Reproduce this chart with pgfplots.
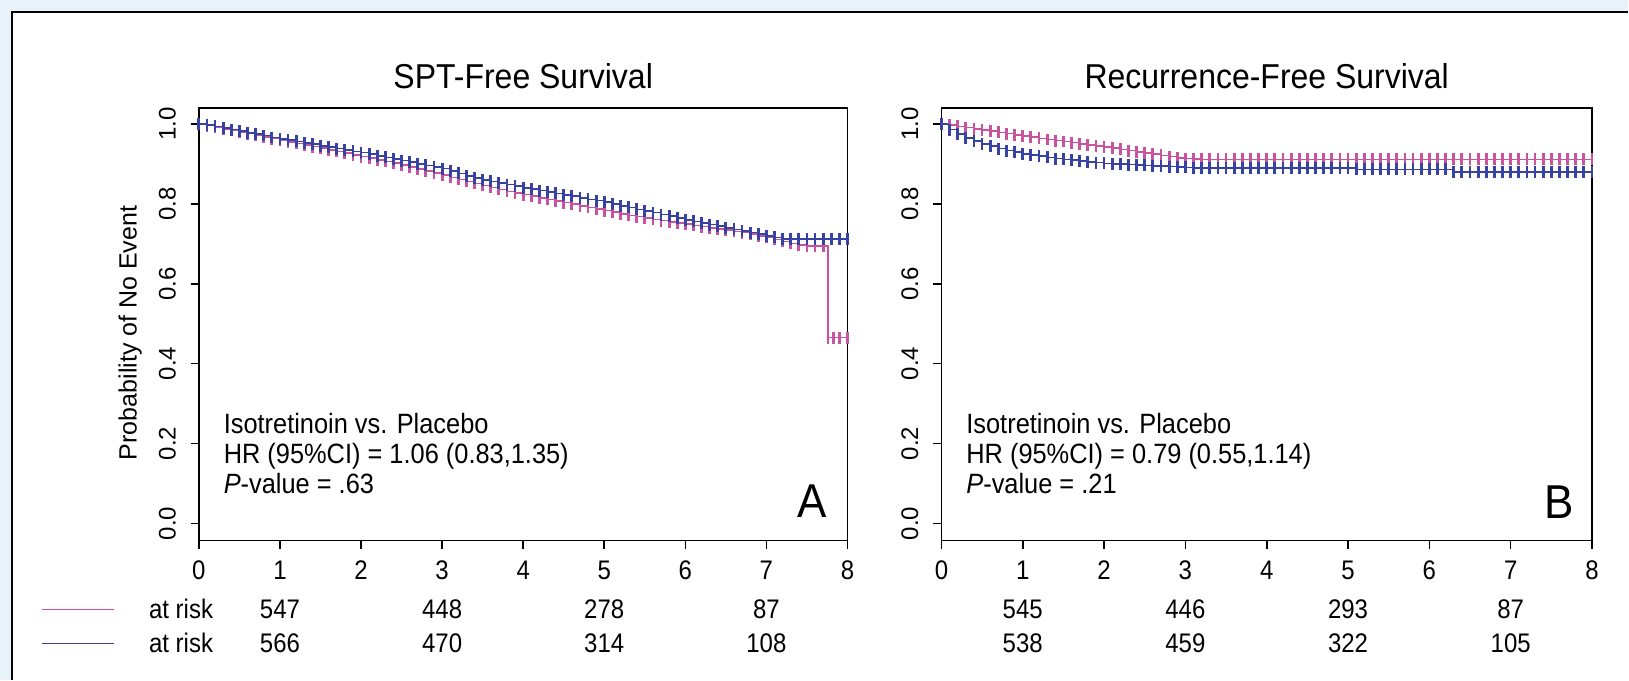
\documentclass[border=0pt]{standalone}
\usepackage{fontspec}
\setmainfont{Liberation Sans}
\usepackage{pgfplots}
\pgfplotsset{compat=1.18}
\definecolor{kmpink}{RGB}{200,84,158}
\definecolor{kmblue}{RGB}{56,66,165}
\definecolor{bgblue}{RGB}{232,243,249}
\tikzset{
  rt/.style={font=\fontsize{12}{14}\selectfont, yscale=1.12},
  ann/.style={font=\fontsize{12.7}{14}\selectfont, yscale=1.1, anchor=base west},
  big/.style={font=\fontsize{22}{26}\selectfont, yscale=1.08, anchor=base},
}
\pgfplotsset{
  kmaxis/.style={
    scale only axis, height=216.5pt,
    xmin=0,xmax=8,ymin=-0.043,ymax=1.04,
    xtick={0,1,2,3,4,5,6,7,8}, ytick={0,0.2,0.4,0.6,0.8,1.0},
    tick align=outside, tick pos=left, major tick length=4pt,
    axis line style={line width=0.8pt},
    every tick/.style={black,line width=0.8pt},
    tick label style={font=\fontsize{12}{14}\selectfont},
    /pgf/number format/assume math mode=true,
    yticklabel style={xshift=-4pt, rotate=90, anchor=south},
    y tick label style={/pgf/number format/.cd, fixed, fixed zerofill, precision=1, /tikz/.cd},
    xticklabel style={anchor=north, yshift=-2.2pt, yscale=1.12},
    clip=false,
    title style={font=\fontsize{16}{19}\selectfont, yscale=1.08, at={(0.5,1)}, anchor=base, yshift=3.3pt},
  },
  kmline/.style={const plot, line width=0.8pt, mark=|, mark size=3pt, mark options={line width=1.4pt, solid}},
}
\begin{document}
\begin{tikzpicture}
\fill[bgblue] (0,0) rectangle (814.5pt,340pt);
\fill[white] (6pt,0) rectangle (814.5pt,334pt);
\draw[black, line width=1pt] (6pt,0) -- (6pt,334pt) -- (814.5pt,334pt);

% ---------------- Panel A ----------------
\begin{axis}[kmaxis, width=324.5pt, at={(99.5pt,69.5pt)}, anchor=south west,
  title={SPT-Free Survival},
  ylabel={Probability of No Event},
  ylabel style={font=\fontsize{12.5}{14}\selectfont, at={(axis description cs:-0.106,0.48)}, anchor=center}]
\addplot[kmline, color=kmpink] coordinates {
(0.0,1.000)(0.1,0.996)(0.2,0.992)(0.3,0.988)(0.4,0.984)(0.5,0.980)(0.6,0.976)(0.7,0.972)(0.8,0.967)(0.9,0.963)
(1.0,0.959)(1.1,0.955)(1.2,0.951)(1.3,0.947)(1.4,0.943)(1.5,0.939)(1.6,0.935)(1.7,0.931)(1.8,0.927)(1.9,0.922)
(2.0,0.918)(2.1,0.914)(2.2,0.910)(2.3,0.906)(2.4,0.902)(2.5,0.897)(2.6,0.892)(2.7,0.887)(2.8,0.882)(2.9,0.877)
(3.0,0.872)(3.1,0.866)(3.2,0.861)(3.3,0.856)(3.4,0.851)(3.5,0.846)(3.6,0.841)(3.7,0.836)(3.8,0.831)(3.9,0.827)
(4.0,0.823)(4.1,0.819)(4.2,0.815)(4.3,0.811)(4.4,0.807)(4.5,0.803)(4.6,0.799)(4.7,0.795)(4.8,0.791)(4.9,0.787)
(5.0,0.783)(5.1,0.779)(5.2,0.775)(5.3,0.771)(5.4,0.768)(5.5,0.764)(5.6,0.761)(5.7,0.758)(5.8,0.755)(5.9,0.752)
(6.0,0.749)(6.1,0.746)(6.2,0.743)(6.3,0.740)(6.4,0.737)(6.5,0.734)(6.6,0.731)(6.7,0.728)(6.8,0.724)(6.9,0.720)
(7.0,0.716)(7.1,0.711)(7.2,0.706)(7.3,0.701)(7.4,0.697)(7.5,0.695)(7.6,0.695)(7.7,0.695)(7.76,0.465)(7.83,0.465)(7.9,0.465)(8.0,0.465)
};
\addplot[kmline, color=kmblue] coordinates {
(0.0,1.000)(0.1,0.998)(0.2,0.994)(0.3,0.990)(0.4,0.986)(0.5,0.982)(0.6,0.978)(0.7,0.975)(0.8,0.971)(0.9,0.966)
(1.0,0.962)(1.1,0.959)(1.2,0.956)(1.3,0.952)(1.4,0.949)(1.5,0.945)(1.6,0.942)(1.7,0.938)(1.8,0.935)(1.9,0.931)
(2.0,0.928)(2.1,0.924)(2.2,0.920)(2.3,0.916)(2.4,0.912)(2.5,0.908)(2.6,0.904)(2.7,0.900)(2.8,0.896)(2.9,0.892)
(3.0,0.888)(3.1,0.882)(3.2,0.876)(3.3,0.870)(3.4,0.865)(3.5,0.860)(3.6,0.856)(3.7,0.852)(3.8,0.848)(3.9,0.844)
(4.0,0.840)(4.1,0.837)(4.2,0.833)(4.3,0.830)(4.4,0.826)(4.5,0.822)(4.6,0.819)(4.7,0.815)(4.8,0.811)(4.9,0.808)
(5.0,0.804)(5.1,0.800)(5.2,0.795)(5.3,0.791)(5.4,0.786)(5.5,0.782)(5.6,0.778)(5.7,0.773)(5.8,0.769)(5.9,0.764)
(6.0,0.760)(6.1,0.756)(6.2,0.752)(6.3,0.748)(6.4,0.744)(6.5,0.740)(6.6,0.736)(6.7,0.732)(6.8,0.728)(6.9,0.724)
(7.0,0.720)(7.1,0.716)(7.2,0.712)(7.3,0.712)(7.4,0.712)(7.5,0.712)(7.6,0.712)(7.7,0.712)(7.8,0.712)(7.9,0.712)(8.0,0.712)
};
\node[ann] at (axis cs:0.22,0.225) {Isotretinoin vs. Placebo};
\node[ann] at (axis cs:0.22,0.150) {HR (95\%CI) = 1.06 (0.83,1.35)};
\node[ann] at (axis cs:0.22,0.075) {\textit{P}-value = .63};
\node[big] at (axis cs:7.56,0.015) {A};
% at-risk table
\draw[kmpink, line width=0.7pt] (axis cs:-1.936,-0.215) -- (axis cs:-1.048,-0.215);
\draw[kmblue, line width=0.7pt] (axis cs:-1.936,-0.30) -- (axis cs:-1.048,-0.30);
\node[rt] at (axis cs:-0.22,-0.215) {at risk};
\node[rt] at (axis cs:-0.22,-0.30) {at risk};
\node[rt] at (axis cs:1,-0.215) {547};
\node[rt] at (axis cs:3,-0.215) {448};
\node[rt] at (axis cs:5,-0.215) {278};
\node[rt] at (axis cs:7,-0.215) {87};
\node[rt] at (axis cs:1,-0.30) {566};
\node[rt] at (axis cs:3,-0.30) {470};
\node[rt] at (axis cs:5,-0.30) {314};
\node[rt] at (axis cs:7,-0.30) {108};
\end{axis}

% ---------------- Panel B ----------------
\begin{axis}[kmaxis, width=325.5pt, at={(471pt,69.5pt)}, anchor=south west,
  title={Recurrence-Free Survival}]
\addplot[kmline, color=kmpink] coordinates {
(0.0,1.000)(0.1,0.997)(0.2,0.994)(0.3,0.991)(0.4,0.988)(0.5,0.985)(0.6,0.982)(0.7,0.979)(0.8,0.976)(0.9,0.973)
(1.0,0.970)(1.1,0.967)(1.2,0.964)(1.3,0.961)(1.4,0.958)(1.5,0.956)(1.6,0.953)(1.7,0.950)(1.8,0.947)(1.9,0.945)
(2.0,0.942)(2.1,0.939)(2.2,0.936)(2.3,0.933)(2.4,0.930)(2.5,0.927)(2.6,0.924)(2.7,0.921)(2.8,0.918)(2.9,0.915)
(3.0,0.913)(3.1,0.912)(3.2,0.911)(3.3,0.911)(3.4,0.911)(3.5,0.911)(3.6,0.911)(3.7,0.911)(3.8,0.911)(3.9,0.911)
(4.0,0.911)(4.1,0.911)(4.2,0.911)(4.3,0.911)(4.4,0.911)(4.5,0.911)(4.6,0.911)(4.7,0.911)(4.8,0.911)(4.9,0.911)
(5.0,0.911)(5.1,0.911)(5.2,0.911)(5.3,0.911)(5.4,0.911)(5.5,0.911)(5.6,0.911)(5.7,0.911)(5.8,0.911)(5.9,0.911)
(6.0,0.911)(6.1,0.911)(6.2,0.911)(6.3,0.911)(6.4,0.911)(6.5,0.911)(6.6,0.911)(6.7,0.911)(6.8,0.911)(6.9,0.911)
(7.0,0.911)(7.1,0.911)(7.2,0.911)(7.3,0.911)(7.4,0.911)(7.5,0.911)(7.6,0.911)(7.7,0.911)(7.8,0.911)(7.9,0.911)(8.0,0.911)
};
\addplot[kmline, color=kmblue] coordinates {
(0.0,1.000)(0.1,0.986)(0.2,0.975)(0.3,0.965)(0.4,0.957)(0.5,0.950)(0.6,0.944)(0.7,0.938)(0.8,0.933)(0.9,0.929)
(1.0,0.925)(1.1,0.922)(1.2,0.919)(1.3,0.916)(1.4,0.913)(1.5,0.911)(1.6,0.909)(1.7,0.907)(1.8,0.905)(1.9,0.903)
(2.0,0.901)(2.1,0.900)(2.2,0.899)(2.3,0.898)(2.4,0.897)(2.5,0.896)(2.6,0.895)(2.7,0.894)(2.8,0.893)(2.9,0.892)
(3.0,0.891)(3.1,0.890)(3.2,0.890)(3.3,0.890)(3.4,0.890)(3.5,0.890)(3.6,0.890)(3.7,0.890)(3.8,0.890)(3.9,0.890)
(4.0,0.890)(4.1,0.890)(4.2,0.890)(4.3,0.890)(4.4,0.890)(4.5,0.890)(4.6,0.890)(4.7,0.890)(4.8,0.890)(4.9,0.890)
(5.0,0.890)(5.1,0.886)(5.2,0.886)(5.3,0.886)(5.4,0.886)(5.5,0.886)(5.6,0.886)(5.7,0.886)(5.8,0.886)(5.9,0.886)
(6.0,0.886)(6.1,0.886)(6.2,0.886)(6.3,0.880)(6.4,0.880)(6.5,0.880)(6.6,0.880)(6.7,0.880)(6.8,0.880)(6.9,0.880)
(7.0,0.880)(7.1,0.880)(7.2,0.880)(7.3,0.880)(7.4,0.880)(7.5,0.880)(7.6,0.880)(7.7,0.880)(7.8,0.880)(7.9,0.880)(8.0,0.880)
};
\node[ann] at (axis cs:0.22,0.225) {Isotretinoin vs. Placebo};
\node[ann] at (axis cs:0.22,0.150) {HR (95\%CI) = 0.79 (0.55,1.14)};
\node[ann] at (axis cs:0.22,0.075) {\textit{P}-value = .21};
\node[big] at (axis cs:7.59,0.0125) {B};
\node[rt] at (axis cs:1,-0.215) {545};
\node[rt] at (axis cs:3,-0.215) {446};
\node[rt] at (axis cs:5,-0.215) {293};
\node[rt] at (axis cs:7,-0.215) {87};
\node[rt] at (axis cs:1,-0.30) {538};
\node[rt] at (axis cs:3,-0.30) {459};
\node[rt] at (axis cs:5,-0.30) {322};
\node[rt] at (axis cs:7,-0.30) {105};
\end{axis}
\end{tikzpicture}
\end{document}
